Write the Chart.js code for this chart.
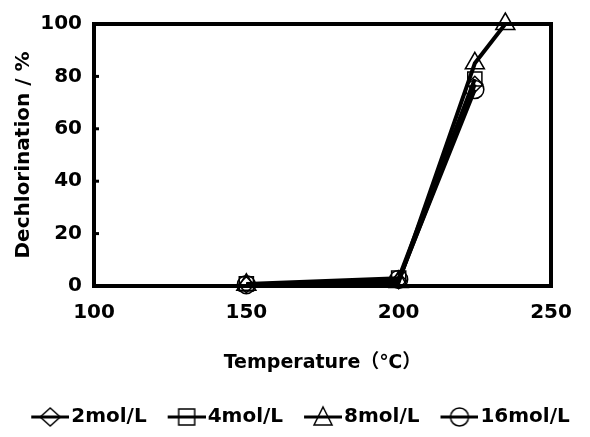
<!DOCTYPE html>
<html>
<head>
<meta charset="utf-8">
<script src="https://cdn.jsdelivr.net/npm/chart.js@4/dist/chart.umd.min.js"></script>
<style>
  html, body { margin: 0; padding: 0; background: #fff; }
  #wrap { width: 590px; height: 437px; }
</style>
</head>
<body>
<div id="wrap"><canvas id="dechl" width="590" height="437"></canvas></div>
<script>
// reaction temperature (C) and dechlorination (%) per NaOH concentration
var temps = [150, 200, 225];
var tempsHigh = [150, 200, 225, 235];
var dechl2 = [0.5, 2, 77];
var dechl4 = [0.8, 3, 79];
var dechl8 = [0.5, 1.5, 85, 100];
var dechl16 = [0.5, 2.5, 75];
var seriesNames = ['2mol/L', '4mol/L', '8mol/L', '16mol/L'];
var markers = ['rectRot', 'rect', 'triangle', 'circle'];
var xTicks = [100, 150, 200, 250];
var yTicks = [0, 20, 40, 60, 80, 100];

var FONT = "'DejaVu Sans', 'Noto Sans CJK JP', sans-serif";

function pts(xs, ys) {
  return xs.map(function (x, i) { return { x: x, y: ys[i] }; });
}

// legend icon: short line with the hollow marker in the middle
function legendIcon(style) {
  var c = document.createElement('canvas');
  c.width = 57; c.height = 24;
  var g = c.getContext('2d');
  var x0 = 19, x1 = 57, cy = 12, cx = (x0 + x1) / 2;
  g.lineWidth = 3;
  g.strokeStyle = '#000';
  g.beginPath(); g.moveTo(x0, cy); g.lineTo(x1, cy); g.stroke();
  g.lineWidth = 1.5;
  g.beginPath();
  if (style == 'rectRot') {
    g.moveTo(cx, cy - 9); g.lineTo(cx + 10, cy); g.lineTo(cx, cy + 9); g.lineTo(cx - 10, cy); g.closePath();
  } else if (style == 'rect') {
    g.rect(cx - 8, cy - 8, 16, 16);
  } else if (style == 'triangle') {
    g.moveTo(cx, cy - 10); g.lineTo(cx + 9, cy + 8); g.lineTo(cx - 9, cy + 8); g.closePath();
  } else {
    g.arc(cx, cy, 9, 0, Math.PI * 2);
  }
  g.stroke();
  return c;
}

var sizes = [8, 10, 11, 9];
var dataSets = [pts(temps, dechl2), pts(temps, dechl4), pts(tempsHigh, dechl8), pts(temps, dechl16)];

var framePlugin = {
  id: 'frame',
  beforeDatasetsDraw: function (chart) {
    var a = chart.chartArea, ctx = chart.ctx, y = chart.scales.y;
    ctx.save();
    ctx.strokeStyle = '#000';
    ctx.lineWidth = 4;
    ctx.strokeRect(a.left, a.top, a.right - a.left, a.bottom - a.top);
    ctx.lineWidth = 3;
    y.ticks.forEach(function (t) {
      var py = y.getPixelForValue(t.value);
      ctx.beginPath(); ctx.moveTo(a.left, py); ctx.lineTo(a.left + 5, py); ctx.stroke();
    });
    ctx.restore();
  }
};

var ctx = document.getElementById('dechl');
var chart = new Chart(ctx, {
  type: 'line',
  data: {
    datasets: dataSets.map(function (d, i) {
      return {
        label: seriesNames[i],
        data: d,
        borderColor: '#000',
        borderWidth: 4,
        pointStyle: markers[i],
        pointRadius: sizes[i],
        pointBorderWidth: 1.5,
        pointBorderColor: '#000',
        pointBackgroundColor: 'rgba(255,255,255,0)',
        tension: 0,
        clip: false
      };
    })
  },
  options: {
    responsive: false,
    animation: false,
    layout: { padding: { left: 0, top: 19, right: 0, bottom: 0 } },
    plugins: {
      tooltip: { enabled: false },
      legend: {
        position: 'bottom',
        labels: {
          color: '#000',
          font: { family: FONT, size: 20, weight: 'bold' },
          usePointStyle: true,
          pointStyleWidth: 41,
          padding: 10,
          generateLabels: function (chart) {
            return seriesNames.map(function (n, i) {
              return { text: n, pointStyle: legendIcon(markers[i]), datasetIndex: i, fontColor: '#000', lineWidth: 0 };
            });
          }
        }
      }
    },
    scales: {
      x: {
        type: 'linear',
        min: 100,
        max: 250,
        afterFit: function (s) { s.height = 111; },
        afterBuildTicks: function (s) { s.ticks = xTicks.map(function (v) { return { value: v }; }); },
        grid: { display: false, drawTicks: false },
        border: { display: false },
        ticks: { color: '#000', padding: 15, font: { family: FONT, size: 20, weight: 'bold' }, maxRotation: 0 },
        title: {
          display: true,
          text: 'Temperature（℃）',
          color: '#000',
          font: { family: FONT, size: 19, weight: 'bold' },
          padding: { top: 0, bottom: 23 }
        }
      },
      y: {
        min: 0,
        max: 100,
        afterFit: function (s) { s.width = 94; },
        afterBuildTicks: function (s) { s.ticks = yTicks.map(function (v) { return { value: v }; }); },
        grid: { display: false, drawTicks: false },
        border: { display: false },
        ticks: { color: '#000', padding: 12, font: { family: FONT, size: 20, weight: 'bold' } },
        title: {
          display: true,
          text: 'Dechlorination / %',
          color: '#000',
          font: { family: FONT, size: 20, weight: 'bold' },
          padding: { top: 12, bottom: 0 }
        }
      },
      // empty right-hand axis, only keeps the plot box clear of the right edge
      yRight: {
        position: 'right',
        min: 0,
        max: 100,
        afterFit: function (s) { s.width = 39; },
        grid: { display: false, drawTicks: false },
        border: { display: false },
        ticks: { display: false }
      }
    }
  },
  plugins: [framePlugin]
});
</script>
</body>
</html>
